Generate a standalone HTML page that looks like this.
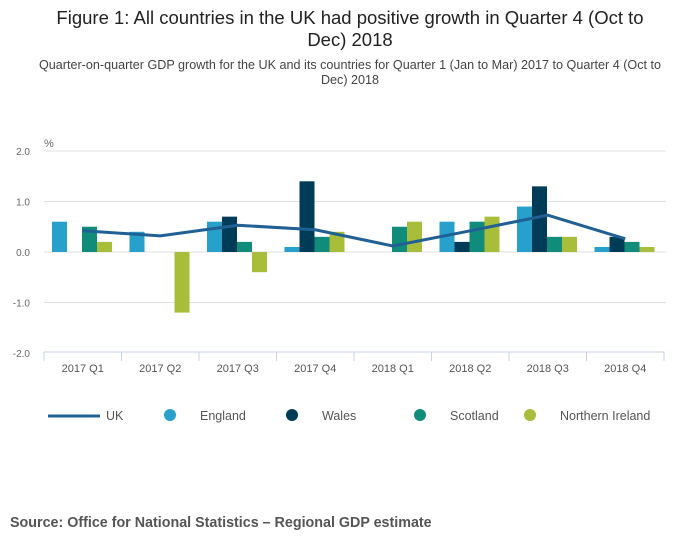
<!DOCTYPE html>
<html><head><meta charset="utf-8"><style>
body{margin:0;background:#fff;font-family:"Liberation Sans",sans-serif;width:700px;height:549px;overflow:hidden}
</style></head><body>
<svg width="700" height="549" id="c" font-family="Liberation Sans, sans-serif">
<text x="350" y="24" text-anchor="middle" font-size="18.5" fill="#222">Figure 1: All countries in the UK had positive growth in Quarter 4 (Oct to</text>
<text x="350" y="46" text-anchor="middle" font-size="18.5" fill="#222">Dec) 2018</text>
<text x="350" y="69" text-anchor="middle" font-size="12.6" fill="#444">Quarter-on-quarter GDP growth for the UK and its countries for Quarter 1 (Jan to Mar) 2017 to Quarter 4 (Oct to</text>
<text x="350" y="84" text-anchor="middle" font-size="12.6" fill="#444">Dec) 2018</text>
<text x="44" y="147" font-size="11" fill="#666">%</text>
<g id="grid"></g><g id="bars"></g><g id="line"></g><g id="xaxis"></g><g id="legend"></g>
<text x="10" y="527" font-size="14.3" font-weight="bold" fill="#555">Source: Office for National Statistics – Regional GDP estimate</text>
</svg>
<script>
const categories=["2017 Q1","2017 Q2","2017 Q3","2017 Q4","2018 Q1","2018 Q2","2018 Q3","2018 Q4"];
const england=[0.6,0.4,0.6,0.1,0,0.6,0.9,0.1];
const wales=[0,0,0.7,1.4,0,0.2,1.3,0.3];
const scotland=[0.5,0,0.2,0.3,0.5,0.6,0.3,0.2];
const nireland=[0.2,-1.2,-0.4,0.4,0.6,0.7,0.3,0.1];
const uk=[0.42,0.32,0.53,0.44,0.12,0.42,0.73,0.26];
const yTicks=[2,1,0,-1,-2];
const yTickLabels=["2.0","1.0","0.0","-1.0","-2.0"];
const NS="http://www.w3.org/2000/svg";
const x0=44,x1=664,gw=(x1-x0)/categories.length;
const y=v=>252-v*50.5;
function mk(t,a,p){const e=document.createElementNS(NS,t);for(const k in a)e.setAttribute(k,a[k]);document.getElementById(p).appendChild(e);return e;}
yTicks.forEach((t,i)=>{
 if(t!==-2){const l=mk("line",{x1:x0,x2:x1+2,y1:y(t),y2:y(t),stroke:"#e0e0e0","stroke-width":1},"grid");
 
 }
 const tx=mk("text",{x:30,y:y(t)+4,"text-anchor":"end","font-size":10,fill:"#666"},"grid");tx.textContent=yTickLabels[i];
 
 
});
const series=[[england,"#27a0cc","england"],[wales,"#003c57","wales"],[scotland,"#118c7b","scotland"],[nireland,"#a8bd3a","northern-ireland"]];
categories.forEach((c,i)=>{
 series.forEach((s,j)=>{const v=s[0][i];if(!v)return;
  const r=mk("rect",{x:x0+i*gw+8+j*15,y:Math.min(y(v),y(0)),width:15,height:Math.abs(y(v)-y(0)),fill:s[1]},"bars");
  
  });
 const tx=mk("text",{x:x0+(i+0.5)*gw,y:372,"text-anchor":"middle","font-size":11,fill:"#555"},"xaxis");tx.textContent=c;
 
 
});
for(let i=0;i<=categories.length;i++){const l=mk("line",{x1:x0+i*gw,x2:x0+i*gw,y1:352,y2:361,stroke:"#c5d3e8"},"xaxis");
 
 }
const ax=mk("line",{x1:x0,x2:x1,y1:352,y2:352,stroke:"#c5d3e8"},"xaxis");


const pl=mk("polyline",{points:uk.map((v,i)=>(x0+(i+0.5)*gw)+","+y(v)).join(" "),fill:"none",stroke:"#206095","stroke-width":3},"line");


const leg=[["UK","#206095",48,"line"],["England","#27a0cc",170],["Wales","#003c57",292],["Scotland","#118c7b",420],["Northern Ireland","#a8bd3a",530]];
leg.forEach(l=>{
 const g=mk("g",{},"legend");
 
 
 let tx;
 if(l[3]){const ln=document.createElementNS(NS,"line");ln.setAttribute("x1",l[2]);ln.setAttribute("x2",l[2]+52);ln.setAttribute("y1",416);ln.setAttribute("y2",416);ln.setAttribute("stroke",l[1]);ln.setAttribute("stroke-width",3);g.appendChild(ln);tx=l[2]+58;}
 else{const ci=document.createElementNS(NS,"circle");ci.setAttribute("cx",l[2]);ci.setAttribute("cy",415);ci.setAttribute("r",6);ci.setAttribute("fill",l[1]);g.appendChild(ci);tx=l[2]+30;}
 const t=document.createElementNS(NS,"text");t.setAttribute("x",tx);t.setAttribute("y",420);t.setAttribute("font-size",12.5);t.setAttribute("fill","#555");t.textContent=l[0];g.appendChild(t);
});
</script>
</body></html>
